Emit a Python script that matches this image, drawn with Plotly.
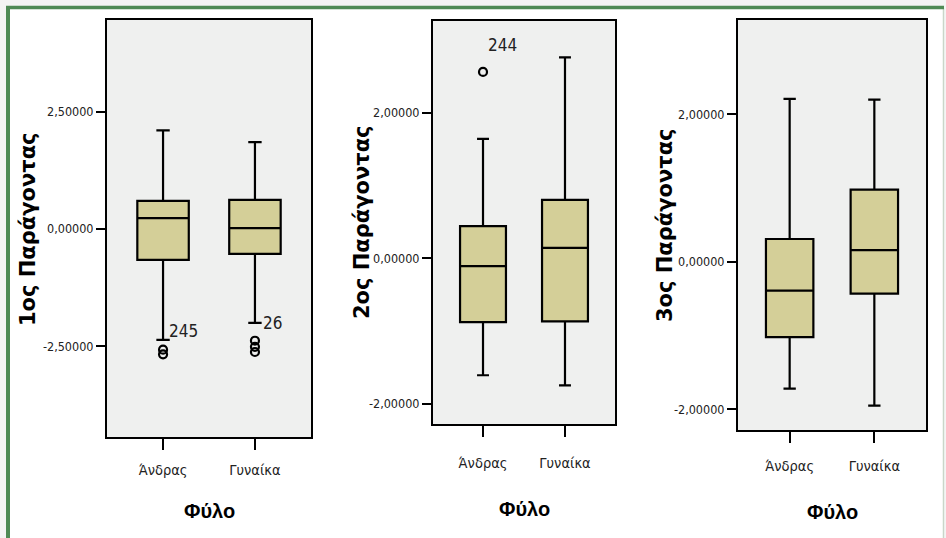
import plotly.graph_objects as go

# Gender categories shared by all three panels
categories = ["Άνδρας", "Γυναίκα"]

# Factor 1 box statistics (per category)
f1_q1 = [-0.66, -0.53]
f1_median = [0.23, 0.02]
f1_q3 = [0.60, 0.62]
f1_low = [-2.36, -2.00]
f1_high = [2.10, 1.85]
f1_out_x = ["Άνδρας", "Άνδρας", "Γυναίκα", "Γυναίκα", "Γυναίκα"]
f1_out_y = [-2.57, -2.67, -2.38, -2.51, -2.62]

# Factor 2 box statistics
f2_q1 = [-0.88, -0.87]
f2_median = [-0.11, 0.14]
f2_q3 = [0.44, 0.80]
f2_low = [-1.61, -1.75]
f2_high = [1.64, 2.76]
f2_out_x = ["Άνδρας"]
f2_out_y = [2.56]

# Factor 3 box statistics
f3_q1 = [-1.02, -0.43]
f3_median = [-0.39, 0.16]
f3_q3 = [0.31, 0.98]
f3_low = [-1.72, -1.95]
f3_high = [2.21, 2.20]

# Case labels for flagged outliers
lbl_text = ["245", "26", "244"]

# Axis ticks
f1_ticks = [2.5, 0.0, -2.5]
f1_ticktext = ["2,50000", "0,00000", "-2,50000"]
f23_ticks = [2.0, 0.0, -2.0]
f23_ticktext = ["2,00000", "0,00000", "-2,00000"]

y_titles = ["1ος Παράγοντας", "2ος Παράγοντας", "3ος Παράγοντας"]
x_title = "Φύλο"

W, H = 946, 538
BOX_FILL = "#d4cf98"
PLOT_BG = "#eff0ef"
NARROW = "DejaVu Sans Condensed, sans-serif"


def px_x(v):
    return v / W


def px_y(v):
    return 1 - v / H


# plot rectangles in pixels: left, top, right, bottom
panels = [
    (107, 20, 311, 437),
    (433, 21, 615, 424),
    (738, 20, 926, 430),
]
y_ranges = [[-4.43, 4.45], [-2.28, 3.26], [-2.28, 3.28]]
x_label_standoff = [8, 14, 11]

fig = go.Figure()

stats = [
    (f1_q1, f1_median, f1_q3, f1_low, f1_high),
    (f2_q1, f2_median, f2_q3, f2_low, f2_high),
    (f3_q1, f3_median, f3_q3, f3_low, f3_high),
]

for i, (q1, med, q3, lo, hi) in enumerate(stats):
    suffix = "" if i == 0 else str(i + 1)
    fig.add_trace(go.Box(
        x=categories, q1=q1, median=med, q3=q3,
        lowerfence=lo, upperfence=hi,
        boxpoints=False, fillcolor=BOX_FILL,
        line=dict(color="black", width=2.2),
        width=0.56, whiskerwidth=0.26,
        xaxis="x" + suffix, yaxis="y" + suffix,
        showlegend=False, hoverinfo="skip",
    ))

outliers = [(f1_out_x, f1_out_y, ""), (f2_out_x, f2_out_y, "2")]
for ox, oy, suffix in outliers:
    fig.add_trace(go.Scatter(
        x=ox, y=oy, mode="markers",
        marker=dict(symbol="circle-open", size=8, color="black",
                    line=dict(width=2.2, color="black")),
        xaxis="x" + suffix, yaxis="y" + suffix,
        showlegend=False, hoverinfo="skip",
    ))

layout = dict(
    width=W, height=H, autosize=False,
    margin=dict(l=0, r=0, t=0, b=0),
    paper_bgcolor="white",
    plot_bgcolor=PLOT_BG,
    showlegend=False,
)

axis_common = dict(
    showline=True, mirror=True, linecolor="black", linewidth=2,
    showgrid=False, zeroline=False, ticks="outside", tickwidth=2,
    tickcolor="black",
)

for i, (l, t, r, b) in enumerate(panels):
    suffix = "" if i == 0 else str(i + 1)
    layout["xaxis" + suffix] = dict(
        axis_common,
        domain=[px_x(l), px_x(r)],
        anchor="y" + suffix,
        type="category",
        categoryorder="array", categoryarray=categories,
        range=[-0.61, 1.61],
        ticklen=11,
        ticklabelstandoff=x_label_standoff[i],
        tickfont=dict(family=NARROW, size=14.5, color="#222"),
    )
    layout["yaxis" + suffix] = dict(
        axis_common,
        domain=[px_y(b), px_y(t)],
        anchor="x" + suffix,
        range=y_ranges[i],
        tickvals=f1_ticks if i == 0 else f23_ticks,
        ticktext=f1_ticktext if i == 0 else f23_ticktext,
        ticklen=9,
        tickfont=dict(family=NARROW, size=12.5, color="#222"),
    )

fig.update_layout(**layout)

# light grey page edge outside the green frame
fig.add_shape(type="rect", xref="paper", yref="paper",
              x0=0, x1=1, y0=px_y(7), y1=1,
              fillcolor="#f4f4f4", line=dict(width=0), layer="below")
fig.add_shape(type="rect", xref="paper", yref="paper",
              x0=0, x1=px_x(7), y0=0, y1=1,
              fillcolor="#f4f4f4", line=dict(width=0), layer="below")
fig.add_shape(type="rect", xref="paper", yref="paper",
              x0=px_x(944.5), x1=1, y0=0, y1=1,
              fillcolor="#f4f4f4", line=dict(width=0), layer="below")
fig.add_shape(type="line", xref="paper", yref="paper",
              x0=px_x(943.5), x1=px_x(943.5), y0=-0.05, y1=px_y(7.5),
              line=dict(color="#c9d6c9", width=1.5), layer="below")
# green frame edges
fig.add_shape(type="line", xref="paper", yref="paper",
              x0=px_x(8), x1=px_x(8), y0=-0.05, y1=px_y(6),
              line=dict(color="#4f8a55", width=4), layer="below")
fig.add_shape(type="line", xref="paper", yref="paper",
              x0=px_x(6), x1=px_x(944), y0=px_y(7.5), y1=px_y(7.5),
              line=dict(color="#4f8a55", width=3.5), layer="below")

annotations = []
# rotated factor titles
y_title_pos = [(28, 229), (362, 222), (665, 225)]
for txt, (ax, ay) in zip(y_titles, y_title_pos):
    annotations.append(dict(
        text=txt, xref="paper", yref="paper", x=px_x(ax), y=px_y(ay),
        textangle=-90, showarrow=False, xanchor="center", yanchor="middle",
        font=dict(family="DejaVu Sans", size=21, color="black", weight="bold"),
    ))
# x axis titles
x_title_y = [511, 509, 512]
for (l, t, r, b), ty in zip(panels, x_title_y):
    annotations.append(dict(
        text=x_title, xref="paper", yref="paper", x=px_x((l + r) / 2), y=px_y(ty),
        showarrow=False, xanchor="center", yanchor="middle",
        font=dict(family="Liberation Sans, Arial, sans-serif", size=20,
                  color="black", weight="bold"),
    ))

# case labels next to outliers
label_spec = [
    (lbl_text[0], "x", "y", categories[0], f1_out_y[0], 4, 19),
    (lbl_text[1], "x", "y", categories[1], f1_out_y[2], 6, 18),
    (lbl_text[2], "x2", "y2", categories[0], f2_out_y[0], 3, 27),
]
for txt, xr, yr, cx, cy, dx, dy in label_spec:
    annotations.append(dict(
        text=txt, xref=xr, yref=yr, x=cx, y=cy, xshift=dx, yshift=dy,
        showarrow=False, xanchor="left", yanchor="middle",
        font=dict(family=NARROW, size=17, color="#222"),
    ))

fig.update_layout(annotations=annotations)

fig.write_html("out.html")
